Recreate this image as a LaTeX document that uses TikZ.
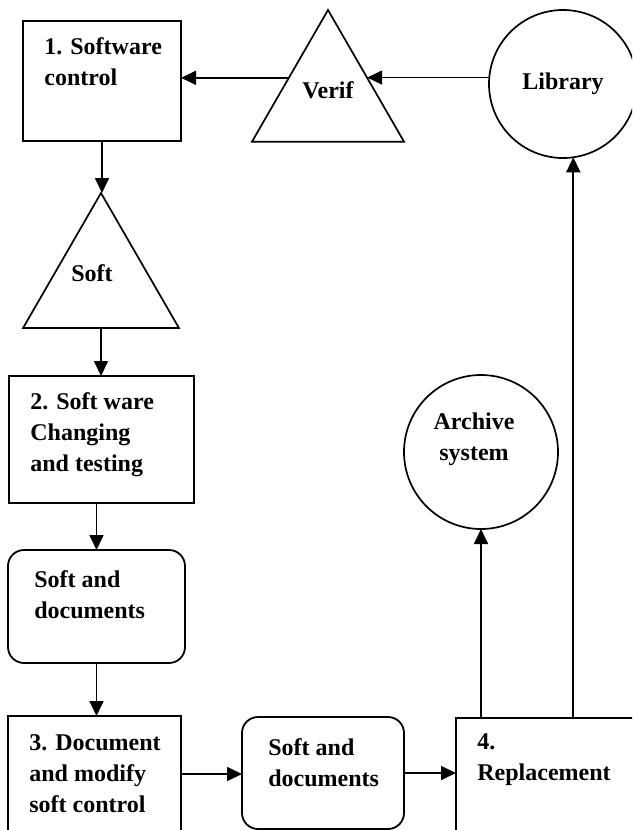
\documentclass[tikz,border=0pt]{standalone}
\usepackage{fontspec}
\setmainfont{Liberation Serif}
\usetikzlibrary{shapes.geometric,arrows.meta}
\tikzset{
	flow/.style={line width=0.85pt, -{Triangle[length=7.5pt,width=7pt]}},
	txt/.style={font=\fontsize{12}{15.5}\selectfont\bfseries, align=left, inner sep=0pt},
	intext/.style={txt, anchor=north west, inner xsep=10.5pt, inner ysep=8pt},
	stepbox/.style={draw, line width=0.9pt, rectangle, anchor=north west, inner sep=0pt, outer sep=0pt},
	docbox/.style={stepbox, rounded corners=8pt},
	store/.style={draw, line width=0.85pt, circle, inner sep=0pt, outer sep=0pt},
	check/.style={draw, line width=0.85pt, regular polygon, regular polygon sides=3, inner sep=0pt, outer sep=0pt}
}

\begin{document}
\begin{tikzpicture}[x=0.5pt, y=-0.5pt]
	\useasboundingbox (0,0) rectangle (632,830);
	\clip (0,0) rectangle (632,830);
	\node[stepbox, minimum width=79pt, minimum height=60pt,
		label={[intext]north west:{1. Software\\control}}] (Box1) at (23,21) {};
	\node[check, minimum size=87.8pt,
		label={[txt, yshift=4pt]center:Verif}] (Verif) at (328,97.8) {};
	\node[store, minimum size=74pt,
		label={[txt]center:Library}] (Library) at (563,84) {};
	\node[check, minimum size=90pt,
		label={[txt, xshift=-4.5pt, yshift=4.75pt]center:Soft}] (Soft) at (101,283) {};
	\node[stepbox, minimum width=92.5pt, minimum height=63.5pt,
		label={[intext]north west:{2. Soft ware\\Changing\\and testing}}] (Box2) at (9,376) {};
	\node[docbox, minimum width=88.5pt, minimum height=56.5pt,
		label={[intext, inner xsep=13pt, inner ysep=10pt]north west:{Soft and\\documents}}] (Docs1) at (8,550) {};
	\node[stepbox, minimum width=86.5pt, minimum height=58pt,
		label={[intext, inner ysep=9pt]north west:{3. Document\\and modify\\soft control}}] (Box3) at (8,716) {};
	\node[docbox, minimum width=81pt, minimum height=56pt,
		label={[intext, inner xsep=13pt, inner ysep=10.5pt]north west:{Soft and\\documents}}] (Docs2) at (242,717) {};
	\node[stepbox, minimum width=100pt, minimum height=58pt,
		label={[intext, inner ysep=7.4pt]north west:{4.\\Replacement}}] (Box4) at (456,718) {};
	\node[store, minimum size=77pt,
		label={[txt, align=center, xshift=-3.5pt, yshift=6.5pt]center:{Archive\\system}}] (Archive) at (481,452) {};

	\draw[flow] (Library.175) -- (Library.175 -| Verif.27);
	\draw[flow] (Verif.153) -- (Verif.153 -| Box1.east);
	\draw[flow] (Box1.south) -- (Box1.south |- Soft.north);
	\draw[flow] (Soft.south) -- (Soft.south |- Box2.north);
	\draw[flow] (Docs1.north |- Box2.south) -- (Docs1.north);
	\draw[flow] (Docs1.south) -- (Docs1.south |- Box3.north);
	\draw[flow] (Box3.east) -- (Box3.east -| Docs2.west);
	\draw[flow] (Docs2.east) -- (Docs2.east -| Box4.west);
	\draw[flow] (Archive.south |- Box4.north) -- (Archive.south);
	\draw[flow] (Library.-82 |- Box4.north) -- (Library.-82);
\end{tikzpicture}
\end{document}
